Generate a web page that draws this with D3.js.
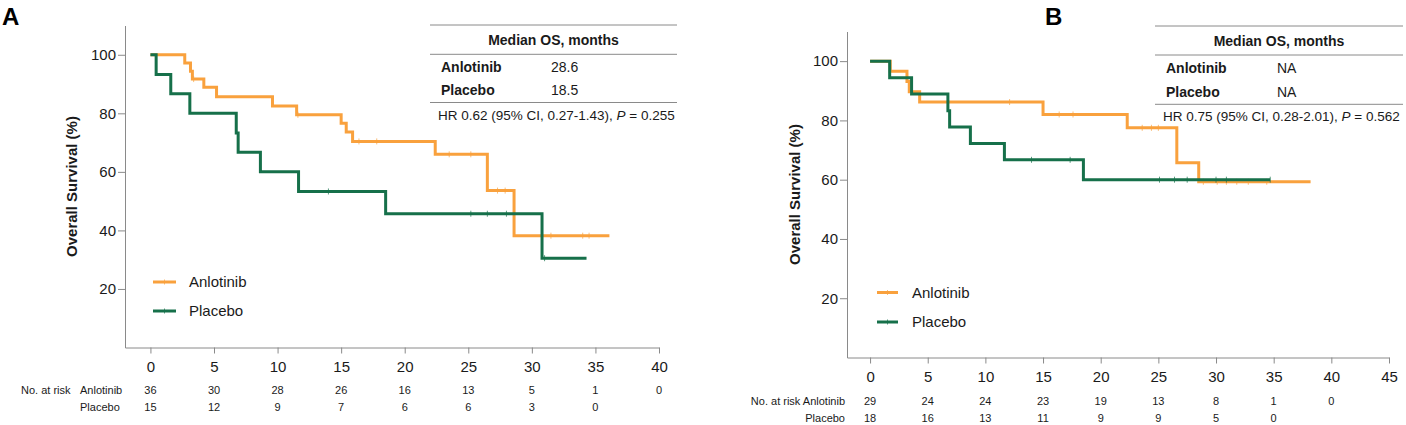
<!DOCTYPE html>
<html>
<head>
<meta charset="utf-8">
<script src="https://cdn.jsdelivr.net/npm/d3@7"></script>
<style>
body { margin: 0; background: #fff; }
svg { font-family: "Liberation Sans", Arial, sans-serif; }
</style>
</head>
<body>
<div id="chart"></div>
<script>
// ---- data ----
var seriesNames = ["Anlotinib", "Placebo"];
var survTicks = [20, 40, 60, 80, 100];
var timeTicksA = [0, 5, 10, 15, 20, 25, 30, 35, 40];
var timeTicksB = [0, 5, 10, 15, 20, 25, 30, 35, 40, 45];

// panel A (step times in months, survival in %)
var anloA_time = [0, 2.7, 3.15, 3.3, 4.2, 5.2, 9.6, 11.5, 15.0, 15.4, 15.9, 22.4, 26.5, 28.6, 36.1];
var anloA_surv = [100, 97.2, 94.4, 91.7, 88.9, 85.7, 82.5, 79.5, 76.6, 73.6, 70.4, 66.0, 53.6, 38.2, 38.2];
var anloA_censor = [3.4, 11.6, 16.4, 17.8, 23.5, 25.2, 27.3, 27.9, 31.5, 34.0, 34.5];
var placA_time = [0, 0.45, 1.6, 3.1, 6.75, 6.9, 8.65, 11.65, 18.5, 30.8, 34.3];
var placA_surv = [100, 93.3, 86.7, 80, 73.3, 66.7, 60, 53.3, 45.7, 30.5, 30.5];
var placA_censor = [14.0, 25.2, 26.5, 28.0, 31.0];
var riskA_anlo = [36, 30, 28, 26, 16, 13, 5, 1, 0];
var riskA_plac = [15, 12, 9, 7, 6, 6, 3, 0];
var medianA = ["28.6", "18.5"];
var hrA = ["HR 0.62 (95% CI, 0.27-1.43), ", "0.255"];

// panel B
var anloB_time = [0, 1.75, 3.2, 3.4, 4.3, 15.0, 22.3, 26.6, 28.5, 38.2];
var anloB_surv = [100, 96.6, 93.1, 89.7, 86.2, 82.0, 77.5, 65.7, 59.3, 59.3];
var anloB_censor = [12.1, 16.4, 17.6, 23.6, 24.4, 25.0, 28.9, 30.1, 30.9, 31.8, 32.8, 34.4];
var placB_time = [0, 1.7, 3.6, 6.75, 6.9, 8.7, 11.65, 18.5, 34.7];
var placB_surv = [100, 94.4, 88.9, 83.3, 77.8, 72.2, 66.7, 60.0, 60.0];
var placB_censor = [14.0, 17.35, 25.1, 26.4, 27.5, 30.0, 30.9, 34.7];
var riskB_anlo = [29, 24, 24, 23, 19, 13, 8, 1, 0];
var riskB_plac = [18, 16, 13, 11, 9, 9, 5, 0];
var medianB = ["NA", "NA"];
var hrB = ["HR 0.75 (95% CI, 0.28-2.01), ", "0.562"];

var colors = ["#f9a13d", "#16704a"];
var axisColor = "#8a8a8a";
var textColor = "#1a1a1a";

var panels = [
	{
		letter: "A", letterX: 2,
		xDomain: [-2, 40], xRange: [125, 659], yRange: [347.5, 25.5],
		ticks: timeTicksA,
		series: [
			{ time: anloA_time, surv: anloA_surv, censor: anloA_censor },
			{ time: placA_time, surv: placA_surv, censor: placA_censor }
		],
		risk: [riskA_anlo, riskA_plac],
		median: medianA, hr: hrA,
		yLabelX: 72,
		legend: { x1: 153, x2: 176, tx: 189, y: [282, 311] },
		riskRows: [390, 407.5], riskStyle: "left",
		table: { x1: 430, x2: 677, top: 25, head: 40, l2: 54.3, rows: [66.7, 90], l3: 102.5, hr: 115, nameX: 441, valX: 551, hrX: 438 }
	},
	{
		letter: "B", letterX: 1045,
		xDomain: [-2, 45], xRange: [847, 1389], yRange: [357.5, 31.5],
		ticks: timeTicksB,
		series: [
			{ time: anloB_time, surv: anloB_surv, censor: anloB_censor },
			{ time: placB_time, surv: placB_surv, censor: placB_censor }
		],
		risk: [riskB_anlo, riskB_plac],
		median: medianB, hr: hrB,
		yLabelX: 795,
		legend: { x1: 877, x2: 898, tx: 912, y: [292.5, 322] },
		riskRows: [401, 418.5], riskStyle: "right",
		table: { x1: 1155, x2: 1403, top: 26, head: 41, l2: 55, rows: [68.3, 91.7], l3: 104.3, hr: 116, nameX: 1166, valX: 1277, hrX: 1163 }
	}
];

var svg = d3.select("#chart").append("svg")
	.attr("width", 1406)
	.attr("height", 425);

function survAt(times, survs, t) {
	var s = survs[0];
	for (var i = 0; i < times.length; i++) {
		if (times[i] <= t) s = survs[i];
	}
	return s;
}

panels.forEach(function(p) {
	var x = d3.scaleLinear().domain(p.xDomain).range(p.xRange);
	var y = d3.scaleLinear().domain([0, 110]).range(p.yRange);
	var g = svg.append("g");

	// panel letter
	g.append("text")
		.attr("x", p.letterX).attr("y", 25)
		.attr("font-size", 24).attr("font-weight", "bold")
		.attr("fill", "#000")
		.text(p.letter);

	// axes
	var xAxis = g.append("g")
		.attr("transform", "translate(0," + p.yRange[0] + ")")
		.call(d3.axisBottom(x).tickValues(p.ticks).tickSize(6).tickSizeOuter(0).tickPadding(8));
	var yAxis = g.append("g")
		.attr("transform", "translate(" + p.xRange[0] + ",0)")
		.call(d3.axisLeft(y).tickValues(survTicks).tickSize(7).tickSizeOuter(0).tickPadding(2));
	[xAxis, yAxis].forEach(function(a) {
		a.attr("font-size", 15).attr("font-family", null);
		a.selectAll("path, line").attr("stroke", axisColor);
		a.selectAll("text").attr("fill", textColor);
	});

	// y label
	var cy = (p.yRange[0] + p.yRange[1]) / 2;
	g.append("text")
		.attr("transform", "translate(" + p.yLabelX + "," + cy + ") rotate(-90)")
		.attr("text-anchor", "middle").attr("dy", "0.35em")
		.attr("font-size", 15).attr("font-weight", "bold")
		.attr("fill", textColor)
		.text("Overall Survival (%)");

	// curves
	var line = d3.line()
		.x(function(d) { return x(d[0]); })
		.y(function(d) { return y(d[1]); })
		.curve(d3.curveStepAfter);

	p.series.forEach(function(s, i) {
		g.append("path")
			.datum(d3.zip(s.time, s.surv))
			.attr("fill", "none")
			.attr("stroke", colors[i])
			.attr("stroke-width", 3)
			.attr("d", line);
		// censor marks, kept faint like the original
		g.selectAll(null)
			.data(s.censor)
			.enter().append("line")
			.attr("x1", function(t) { return x(t); })
			.attr("x2", function(t) { return x(t); })
			.attr("y1", function(t) { return y(survAt(s.time, s.surv, t)) - 3; })
			.attr("y2", function(t) { return y(survAt(s.time, s.surv, t)) + 3; })
			.attr("stroke", colors[i])
			.attr("stroke-opacity", 0.7)
			.attr("stroke-width", 1);
	});

	// legend
	seriesNames.forEach(function(name, i) {
		var ly = p.legend.y[i];
		g.append("line")
			.attr("x1", p.legend.x1).attr("x2", p.legend.x2)
			.attr("y1", ly).attr("y2", ly)
			.attr("stroke", colors[i]).attr("stroke-width", 3);
		var mx = (p.legend.x1 + p.legend.x2) / 2;
		g.append("line")
			.attr("x1", mx).attr("x2", mx)
			.attr("y1", ly - 2.5).attr("y2", ly + 2.5)
			.attr("stroke", colors[i]).attr("stroke-opacity", 0.7).attr("stroke-width", 1);
		g.append("text")
			.attr("x", p.legend.tx).attr("y", ly).attr("dy", "0.35em")
			.attr("font-size", 15).attr("fill", textColor)
			.text(name);
	});

	// numbers at risk
	p.risk.forEach(function(vals, i) {
		g.selectAll(null)
			.data(vals)
			.enter().append("text")
			.attr("x", function(d, j) { return x(p.ticks[j]); })
			.attr("y", p.riskRows[i]).attr("dy", "0.35em")
			.attr("text-anchor", "middle")
			.attr("font-size", 11).attr("fill", textColor)
			.text(function(d) { return d; });
	});
	if (p.riskStyle === "left") {
		g.append("text").attr("x", 21).attr("y", p.riskRows[0]).attr("dy", "0.35em")
			.attr("font-size", 11).attr("fill", textColor).text("No. at risk");
		seriesNames.forEach(function(name, i) {
			g.append("text").attr("x", 80).attr("y", p.riskRows[i]).attr("dy", "0.35em")
				.attr("font-size", 11).attr("fill", textColor).text(name);
		});
	} else {
		g.append("text").attr("x", 845).attr("y", p.riskRows[0]).attr("dy", "0.35em")
			.attr("text-anchor", "end")
			.attr("font-size", 11).attr("fill", textColor).text("No. at risk " + seriesNames[0]);
		g.append("text").attr("x", 845).attr("y", p.riskRows[1]).attr("dy", "0.35em")
			.attr("text-anchor", "end")
			.attr("font-size", 11).attr("fill", textColor).text(seriesNames[1]);
	}

	// median OS table
	var t = p.table;
	[t.top, t.l2, t.l3].forEach(function(ly) {
		g.append("line")
			.attr("x1", t.x1).attr("x2", t.x2)
			.attr("y1", ly).attr("y2", ly)
			.attr("stroke", axisColor).attr("stroke-width", 1);
	});
	g.append("text")
		.attr("x", (t.x1 + t.x2) / 2).attr("y", t.head).attr("dy", "0.35em")
		.attr("text-anchor", "middle")
		.attr("font-size", 14).attr("font-weight", "bold").attr("fill", textColor)
		.text("Median OS, months");
	seriesNames.forEach(function(name, i) {
		g.append("text")
			.attr("x", t.nameX).attr("y", t.rows[i]).attr("dy", "0.35em")
			.attr("font-size", 14).attr("font-weight", "bold").attr("fill", textColor)
			.text(name);
		g.append("text")
			.attr("x", t.valX).attr("y", t.rows[i]).attr("dy", "0.35em")
			.attr("font-size", 14).attr("fill", textColor)
			.text(p.median[i]);
	});
	var hr = g.append("text")
		.attr("x", t.hrX).attr("y", t.hr).attr("dy", "0.35em")
		.attr("font-size", 13.5).attr("fill", textColor);
	hr.append("tspan").text(p.hr[0]);
	hr.append("tspan").attr("font-style", "italic").text("P");
	hr.append("tspan").text(" = " + p.hr[1]);
});
</script>
</body>
</html>
